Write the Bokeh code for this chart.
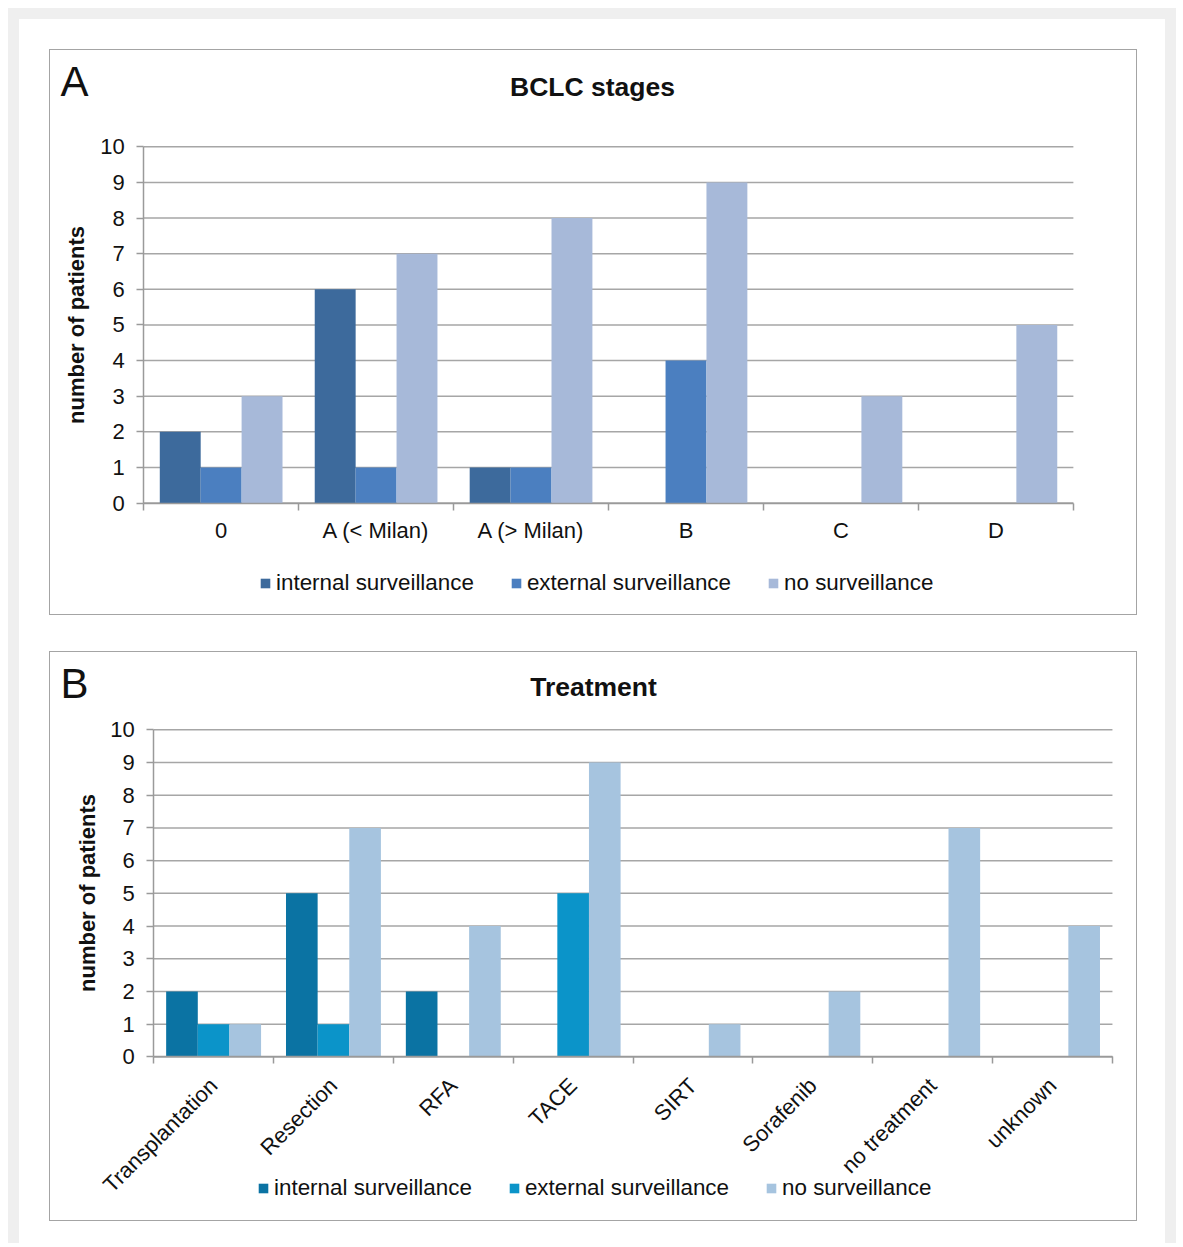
import math
from bokeh.plotting import figure
from bokeh.models import (ColumnDataSource, FixedTicker, Legend, LegendItem, Range1d,
                          Label)
from bokeh.layouts import column
from bokeh.embed import file_html
from bokeh.resources import INLINE

# ---- data ----
series_names = ["internal surveillance", "external surveillance", "no surveillance"]

bclc_stages = ["0", "A (< Milan)", "A (> Milan)", "B", "C", "D"]
bclc_internal = [2, 6, 1, 0, 0, 0]
bclc_external = [1, 1, 1, 4, 0, 0]
bclc_none = [3, 7, 8, 9, 3, 5]

treatments = ["Transplantation", "Resection", "RFA", "TACE", "SIRT",
              "Sorafenib", "no treatment", "unknown"]
treat_internal = [2, 5, 2, 0, 0, 0, 0, 0]
treat_external = [1, 1, 0, 5, 0, 0, 0, 0]
treat_none = [1, 7, 4, 9, 1, 2, 7, 4]

y_ticks = list(range(0, 11))
y_max = 10

FONT = "Liberation Sans"
GRID = "#a6a6a6"
AXIS = "#9a9a9a"
TXT = "#111111"


def make_panel(letter, title, cats, series, colors, w, h, geom, title_pos, letter_pos,
               legend_loc, rotate, ylab_standoff, xlab_standoff):
    """geom = (x-axis left px, x-axis right px, y=10 px, y=0 px) inside the box."""
    n = len(cats)
    cw, ch = w - 2, h - 2
    axl, axr, ytop, ybot = geom
    ux = (axr - axl) / n
    uy = (ybot - ytop) / y_max
    xr = Range1d(-axl / ux, n + (cw - axr) / ux)
    yr = Range1d(-(ch - ybot) / uy, y_max + ytop / uy)

    p = figure(width=w, height=h, output_backend="svg", toolbar_location=None,
               x_range=xr, y_range=yr, min_border=0,
               styles={"border": "1px solid #a4a4a4"})
    p.outline_line_color = None
    p.background_fill_color = "white"
    p.border_fill_color = "white"
    p.xgrid.visible = False
    p.ygrid.visible = False

    # horizontal grid lines at the y ticks, across the category span
    gsrc = ColumnDataSource(dict(y=y_ticks, x0=[0] * len(y_ticks), x1=[n] * len(y_ticks)))
    p.segment(x0="x0", x1="x1", y0="y", y1="y", source=gsrc,
              line_color=GRID, line_width=1.5)

    bar_w = 0.264
    offsets = [-bar_w, 0.0, bar_w]
    items = []
    for vals, col, off, name in zip(series, colors, offsets, series_names):
        src = ColumnDataSource(dict(x=[i + 0.5 + off for i in range(n)], top=vals))
        r = p.vbar(x="x", top="top", bottom=0, width=bar_w, source=src,
                   fill_color=col, line_color=None)
        items.append(LegendItem(label=name, renderers=[r]))

    # y axis
    ya = p.yaxis[0]
    ya.fixed_location = 0
    ya.bounds = (0, y_max)
    ya.ticker = FixedTicker(ticks=y_ticks, minor_ticks=[])
    ya.axis_line_color = AXIS
    ya.axis_line_width = 1.5
    ya.major_tick_line_color = AXIS
    ya.major_tick_line_width = 1.5
    ya.major_tick_out = 7
    ya.major_tick_in = 0
    ya.minor_tick_line_color = None
    ya.major_label_text_font = FONT
    ya.major_label_text_font_size = "22px"
    ya.major_label_text_color = TXT
    ya.major_label_standoff = 12
    ya.axis_label = "number of patients"
    ya.axis_label_text_font = FONT
    ya.axis_label_text_font_size = "22px"
    ya.axis_label_text_font_style = "bold"
    ya.axis_label_text_color = TXT
    ya.axis_label_standoff = ylab_standoff

    # x axis: labels at category centres, tick marks at category boundaries
    xa = p.xaxis[0]
    xa.fixed_location = 0
    xa.bounds = (0, n)
    xa.ticker = FixedTicker(ticks=[i + 0.5 for i in range(n)],
                            minor_ticks=list(range(n + 1)))
    xa.major_label_overrides = {i + 0.5: c for i, c in enumerate(cats)}
    xa.axis_line_color = AXIS
    xa.axis_line_width = 1.5
    xa.major_tick_line_color = None
    xa.major_tick_out = 0
    xa.major_tick_in = 0
    xa.minor_tick_line_color = AXIS
    xa.minor_tick_line_width = 1.5
    xa.minor_tick_out = 7
    xa.minor_tick_in = 0
    xa.major_label_text_font = FONT
    xa.major_label_text_font_size = "22px"
    xa.major_label_text_color = TXT
    xa.major_label_standoff = xlab_standoff
    if rotate:
        xa.major_label_orientation = math.pi / 4

    # title and panel letter (screen units from the frame's bottom-left)
    p.add_layout(Label(x=title_pos[0], y=title_pos[1], x_units="screen", y_units="screen",
                       text=title, text_font=FONT, text_font_size="26.5px",
                       text_font_style="bold", text_align="center",
                       text_baseline="middle", text_color=TXT))
    p.add_layout(Label(x=letter_pos[0], y=letter_pos[1], x_units="screen", y_units="screen",
                       text=letter, text_font=FONT, text_font_size="42px",
                       text_align="left", text_baseline="alphabetic", text_color=TXT))

    legend = Legend(items=items, orientation="horizontal", location=legend_loc,
                    border_line_color=None, background_fill_alpha=0,
                    padding=0, margin=0, spacing=36, label_standoff=5,
                    glyph_width=12, glyph_height=12,
                    label_text_font=FONT, label_text_font_size="22.4px",
                    label_text_color=TXT)
    p.add_layout(legend, "center")
    return p


pA = make_panel("A", "BCLC stages", bclc_stages,
                [bclc_internal, bclc_external, bclc_none],
                ["#3d6a9c", "#4b7fc0", "#a7b9d9"],
                1088, 566, (93, 1021, 96, 451), (542, 530), (10, 535),
                (209, 20), False, 8, 8)

pB = make_panel("B", "Treatment", treatments,
                [treat_internal, treat_external, treat_none],
                ["#0b73a3", "#0b94c9", "#a6c4df"],
                1088, 570, (103, 1060, 77, 403), (543, 536), (10, 539),
                (207, 21), True, 7, 18)

inner = column(pA, pB, spacing=36,
               styles={"background-color": "white", "padding": "30px 28px 22px 30px"})
outer = column(inner, styles={"background-color": "#efefef",
                              "padding": "11px 11px 0px 11px"})
page = column(outer, styles={"padding": "8px 0px 0px 8px"})

open("out.html", "w").write(file_html(page, INLINE))
